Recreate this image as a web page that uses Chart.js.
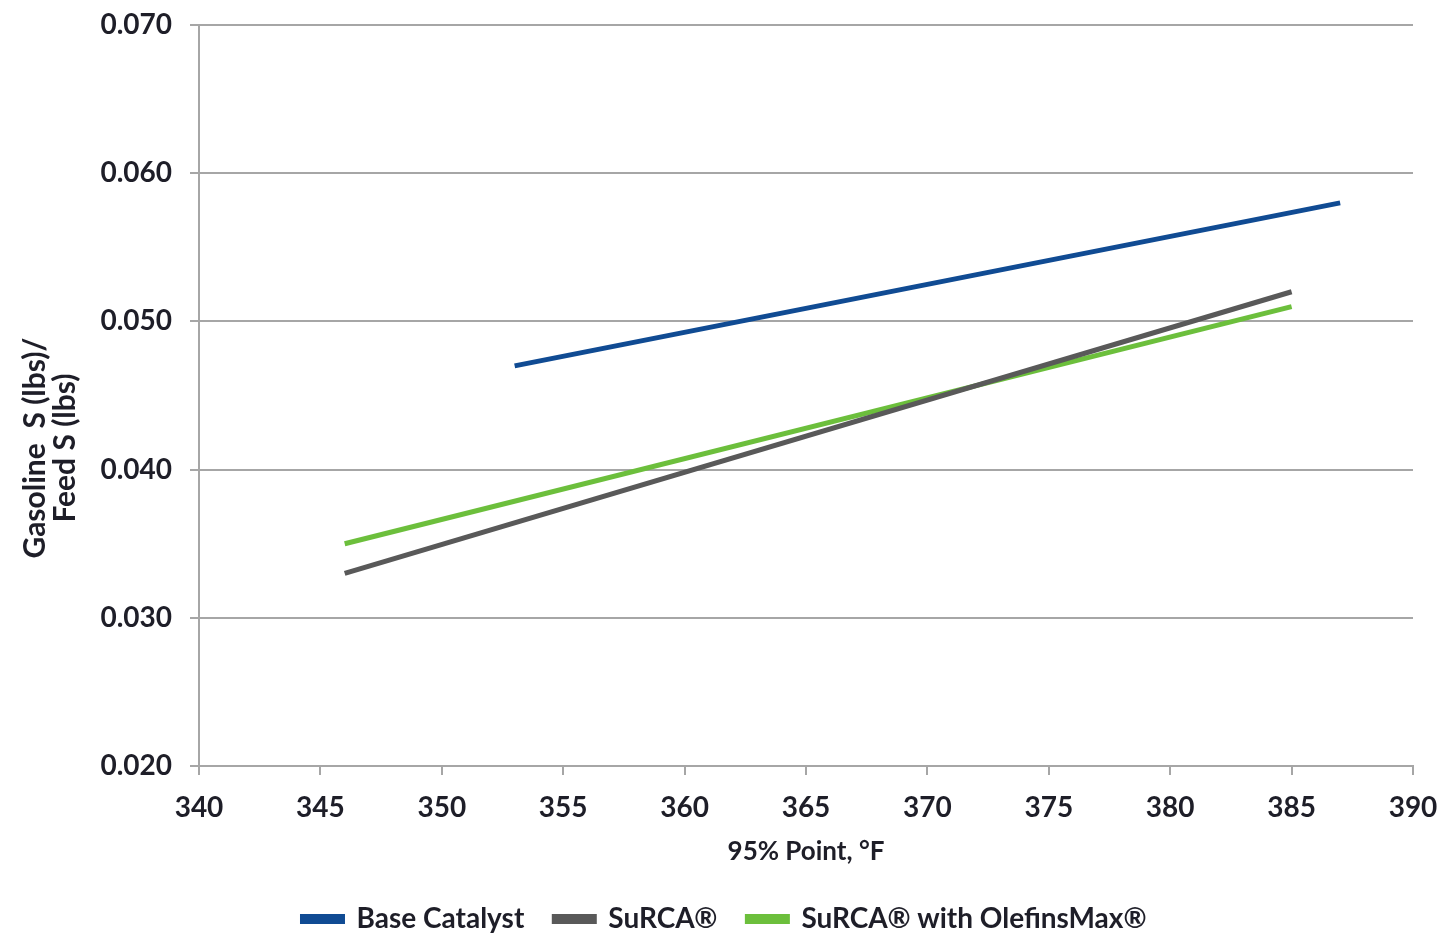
<!DOCTYPE html>
<html>
<head>
<meta charset="utf-8">
<script src="https://cdn.jsdelivr.net/npm/chart.js@4/dist/chart.umd.min.js"></script>
<style>
  html, body { margin: 0; padding: 0; background: #fff; }
  #wrap { width: 1441px; height: 933px; }
</style>
</head>
<body>
<div id="wrap"><canvas id="chart" width="1441" height="933"></canvas></div>
<script>
// Data
const seriesNames = ['Base Catalyst', 'SuRCA®', 'SuRCA® with OlefinsMax®'];
const baseX = [353, 387];
const baseY = [0.047, 0.058];
const surcaX = [346, 385];
const surcaY = [0.033, 0.052];
const olefinsX = [346, 385];
const olefinsY = [0.035, 0.051];
const xTicks = [340, 345, 350, 355, 360, 365, 370, 375, 380, 385, 390];
const yTicks = [0.020, 0.030, 0.040, 0.050, 0.060, 0.070];

const TEXT = '#1e1e28';
const GRID = '#a6a6a6';
const FONT = 'Lato, "Open Sans", sans-serif';

function toPoints(xs, ys) {
  return xs.map((x, i) => ({ x: x, y: ys[i] }));
}

const colors = ['#104b93', '#595959', '#6cbf3c'];
const pts = [toPoints(baseX, baseY), toPoints(surcaX, surcaY), toPoints(olefinsX, olefinsY)];

// the legend in the original sits a little right of centre
const legendShift = {
  id: 'legendShift',
  afterLayout(chart) {
    if (chart.legend) {
      chart.legend.left += 18;
      chart.legend.right += 18;
    }
  }
};

// trailing en spaces push the rotated y title down, like the original
const pad = '\u2002'.repeat(7);

const ctx = document.getElementById('chart').getContext('2d');
new Chart(ctx, {
  type: 'line',
  data: {
    datasets: seriesNames.map((name, i) => ({
      label: name,
      data: pts[i],
      borderColor: colors[i],
      backgroundColor: colors[i],
      borderWidth: 5,
      pointRadius: 0,
      tension: 0
    }))
  },
  plugins: [legendShift],
  options: {
    responsive: false,
    animation: false,
    layout: { padding: { top: 25, right: 28, left: 0, bottom: -10 } },
    plugins: {
      tooltip: { enabled: false },
      legend: {
        position: 'bottom',
        labels: {
          color: TEXT,
          font: { family: FONT, size: 28, weight: 'bold' },
          boxWidth: 40,
          boxHeight: 5,
          padding: 30
        }
      }
    },
    scales: {
      x: {
        type: 'linear',
        min: 340,
        max: 390,
        afterBuildTicks: (scale) => { scale.ticks = xTicks.map(v => ({ value: v })); },
        afterFit: (scale) => {
          scale.height = 109;
          scale.paddingLeft = 0;
          scale.paddingRight = 0;
        },
        ticks: {
          color: TEXT,
          font: { family: FONT, size: 28, weight: 'bold' },
          padding: 16,
          maxRotation: 0
        },
        grid: { drawOnChartArea: false, drawTicks: true, tickLength: 9, color: GRID, lineWidth: 2 },
        border: { display: true, color: GRID, width: 2 },
        title: {
          display: true,
          text: '95% Point, °F',
          color: TEXT,
          font: { family: FONT, size: 26, weight: 'bold' },
          padding: { top: 12, bottom: 8 }
        }
      },
      y: {
        type: 'linear',
        min: 0.02,
        max: 0.07,
        afterBuildTicks: (scale) => { scale.ticks = yTicks.map(v => ({ value: v })); },
        afterFit: (scale) => {
          scale.width = 199;
          scale.paddingTop = 0;
          scale.paddingBottom = 0;
        },
        ticks: {
          color: TEXT,
          font: { family: FONT, size: 28, weight: 'bold' },
          padding: 18,
          callback: (v) => Number(v).toFixed(3)
        },
        grid: { color: GRID, lineWidth: 2, tickLength: 9 },
        border: { display: true, color: GRID, width: 2 },
        title: {
          display: true,
          text: ['Gasoline  S (lbs)/' + pad, 'Feed S (lbs)' + pad],
          color: TEXT,
          font: { family: FONT, size: 30, weight: 'bold', lineHeight: 1.0 },
          padding: { top: 20, bottom: 0 }
        }
      }
    }
  }
});
</script>
</body>
</html>
